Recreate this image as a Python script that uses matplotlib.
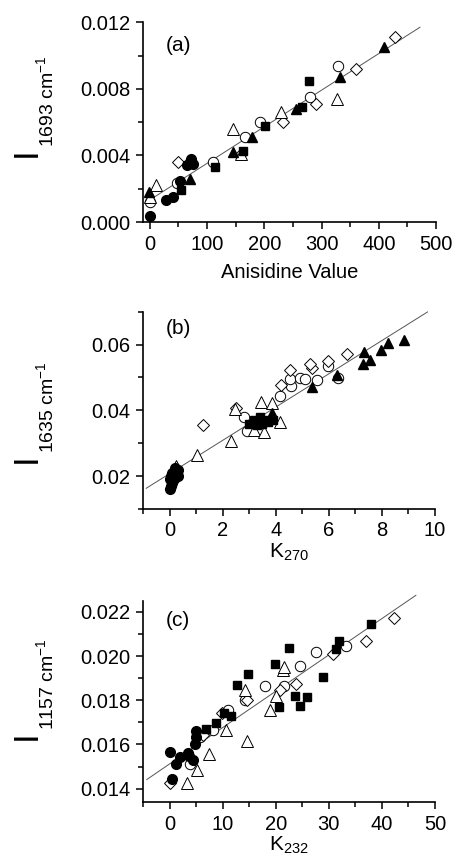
import matplotlib
matplotlib.use("Agg")
import matplotlib.pyplot as plt
from matplotlib.ticker import MultipleLocator, FormatStrFormatter
import numpy as np

plt.rcParams['font.family'] = ['Liberation Sans', 'DejaVu Sans']
plt.rcParams['mathtext.fontset'] = 'custom'
plt.rcParams['mathtext.rm'] = 'Liberation Sans'
plt.rcParams['mathtext.it'] = 'Liberation Sans'

# --- Panel (a): anisidine value vs I(1693) ---
a_fcirc_x = [0, 28, 41, 52, 65, 70, 72, 75]
a_fcirc_y = [0.00036, 0.0013, 0.0015, 0.00245, 0.0034, 0.0036, 0.0038, 0.0035]
a_fsq_x = [55, 114, 162, 201, 265, 278]
a_fsq_y = [0.0019, 0.0033, 0.0043, 0.0058, 0.0069, 0.0085]
a_ftri_x = [-1, 70, 145, 178, 256, 332, 410]
a_ftri_y = [0.0018, 0.0026, 0.0042, 0.0051, 0.0068, 0.0087, 0.0105]
a_ocirc_x = [0, 47, 111, 166, 192, 280, 328]
a_ocirc_y = [0.0012, 0.00237, 0.0036, 0.0051, 0.006, 0.0075, 0.0094]
a_odia_x = [50, 160, 233, 291, 361, 429]
a_odia_y = [0.0036, 0.0041, 0.006, 0.0071, 0.0092, 0.01115]
a_otri_x = [0, 10, 146, 160, 229, 327]
a_otri_y = [0.0015, 0.0022, 0.0056, 0.0041, 0.0066, 0.0074]
a_fit = (2.2e-5, 0.00133)
a_fit_range = [-8, 472]

# --- Panel (b): K270 vs I(1635) ---
b_fcirc_x = [0.0, 0.05, 0.1, 0.0, 0.15, 0.2, 0.1, 0.25, 0.3, 0.05, 0.2, 0.3]
b_fcirc_y = [0.016, 0.017, 0.018, 0.019, 0.019, 0.020, 0.021, 0.021, 0.022, 0.020, 0.0225, 0.020]
b_fsq_x = [3.0, 3.2, 3.3, 3.4, 3.5, 3.6, 3.7, 3.9]
b_fsq_y = [0.036, 0.037, 0.0355, 0.038, 0.036, 0.037, 0.0365, 0.037]
b_ftri_x = [3.87, 5.35, 6.3, 7.3, 7.55, 7.33, 7.95, 8.24, 8.83]
b_ftri_y = [0.0391, 0.0471, 0.0508, 0.0541, 0.0553, 0.0576, 0.0584, 0.0606, 0.0613]
b_ocirc_x = [2.8, 2.9, 4.15, 4.57, 4.55, 4.9, 5.1, 5.56, 6.35, 5.97]
b_ocirc_y = [0.0379, 0.0336, 0.0443, 0.0473, 0.0496, 0.0498, 0.0496, 0.0493, 0.0498, 0.0536]
b_odia_x = [1.26, 2.49, 4.18, 4.53, 5.35, 5.3, 5.97, 6.67]
b_odia_y = [0.0354, 0.0408, 0.0476, 0.0523, 0.0529, 0.0540, 0.0551, 0.0571]
b_otri_x = [0.25, 1.03, 2.33, 2.45, 3.46, 3.87, 4.15, 3.18, 3.56]
b_otri_y = [0.0231, 0.0264, 0.0308, 0.0405, 0.0426, 0.0421, 0.0366, 0.0339, 0.0334]
b_fit = (0.00506, 0.02075)
b_fit_range = [-0.88, 9.72]

# --- Panel (c): K232 vs I(1157) ---
c_fcirc_x = [0, 0.5, 1.3, 1.9, 3.5, 3.7, 4.4, 4.8, 4.9, 5.0]
c_fcirc_y = [0.01564, 0.01442, 0.01514, 0.01544, 0.01562, 0.0155, 0.01529, 0.01604, 0.01634, 0.01663]
c_fsq_x = [6.9, 8.8, 10.3, 11.6, 12.7, 14.8, 19.9, 22.5, 20.6, 23.7, 24.5, 25.8, 28.9, 31.3, 31.9, 37.9]
c_fsq_y = [0.01668, 0.01697, 0.01742, 0.01728, 0.01869, 0.01917, 0.01964, 0.02038, 0.01768,
           0.01818, 0.01776, 0.01814, 0.01906, 0.02031, 0.02068, 0.02143]
c_ocirc_x = [3.8, 5.7, 8.2, 11.1, 14.3, 17.9, 21.5, 24.5, 27.5, 33.2]
c_ocirc_y = [0.01514, 0.01634, 0.01664, 0.01754, 0.01799, 0.01866, 0.01866, 0.01956, 0.02019, 0.02046]
c_odia_x = [0, 6.3, 9.9, 14.5, 20.8, 23.9, 30.8, 37.0, 42.3]
c_odia_y = [0.01424, 0.01641, 0.01742, 0.0180, 0.01847, 0.01874, 0.02009, 0.02068, 0.0217]
c_otri_x = [3.2, 5.2, 7.4, 10.6, 14.5, 14.3, 18.9, 20.0, 21.3, 21.6]
c_otri_y = [0.01427, 0.01484, 0.01555, 0.01664, 0.01616, 0.01848, 0.01754, 0.01821, 0.01938, 0.0195]
c_fit = (0.0001643, 0.01512)
c_fit_range = [-4.3, 46.4]

# marker styles
STYLES = {
    'fcirc': dict(marker='o', ms=7, mfc='black', mec='black'),
    'fsq': dict(marker='s', ms=6.2, mfc='black', mec='black'),
    'ftri': dict(marker='^', ms=7.5, mfc='black', mec='black'),
    'ocirc': dict(marker='o', ms=7.5, mfc='white', mec='black', mew=0.7),
    'odia': dict(marker='D', ms=6, mfc='white', mec='black', mew=0.7),
    'otri': dict(marker='^', ms=8, mfc='white', mec='black', mew=0.7),
}

W, H = 455, 863
fig = plt.figure(figsize=(W / 100, H / 100), dpi=100)


def px_axes(left, top, right, bottom):
    return fig.add_axes([left / W, 1 - bottom / H, (right - left) / W, (bottom - top) / H])


def style_axes(ax):
    for s in ['top', 'right']:
        ax.spines[s].set_visible(False)
    for s in ['left', 'bottom']:
        ax.spines[s].set_linewidth(1.2)
    ax.tick_params(which='major', direction='out', length=5, width=1.1, labelsize=14.5, pad=4)
    ax.tick_params(which='minor', direction='out', length=3.5, width=1.1)


def draw_panel(ax, series, fit, fit_range):
    xf = np.array(fit_range)
    ax.plot(xf, fit[0] * xf + fit[1], color='#555555', lw=0.7, zorder=1, clip_on=False)
    for key, (xs, ys) in series.items():
        ax.plot(xs, ys, ls='none', zorder=3, clip_on=False, **STYLES[key])


def ylabel(ylow, big, sub):
    fig.text(26 / W, 1 - ylow / H, big, rotation=90, fontsize=25, ha='center', va='center')
    fig.text(46 / W, 1 - (ylow - 5) / H, sub, rotation=90, fontsize=14, ha='center', va='bottom')


# (a)
ax = px_axes(143, 22.5, 436, 222)
style_axes(ax)
draw_panel(ax, {'ocirc': (a_ocirc_x, a_ocirc_y), 'odia': (a_odia_x, a_odia_y),
                'otri': (a_otri_x, a_otri_y), 'fcirc': (a_fcirc_x, a_fcirc_y),
                'fsq': (a_fsq_x, a_fsq_y), 'ftri': (a_ftri_x, a_ftri_y)}, a_fit, a_fit_range)
ax.set_xlim(-12, 500)
ax.set_ylim(0, 0.012)
ax.xaxis.set_major_locator(MultipleLocator(100))
ax.xaxis.set_minor_locator(MultipleLocator(50))
ax.yaxis.set_major_locator(MultipleLocator(0.004))
ax.yaxis.set_minor_locator(MultipleLocator(0.002))
ax.yaxis.set_major_formatter(FormatStrFormatter('%.3f'))
ax.set_xlabel('Anisidine Value', fontsize=14.5, labelpad=7)
ax.text(0.078, 0.885, '(a)', transform=ax.transAxes, fontsize=15, ha='left', va='center')
ylabel(152, 'I', '1693 cm$^{\\mathregular{-1}}$')

# (b)
ax = px_axes(143, 311.7, 435, 509)
style_axes(ax)
draw_panel(ax, {'ocirc': (b_ocirc_x, b_ocirc_y), 'odia': (b_odia_x, b_odia_y),
                'otri': (b_otri_x, b_otri_y), 'fcirc': (b_fcirc_x, b_fcirc_y),
                'fsq': (b_fsq_x, b_fsq_y), 'ftri': (b_ftri_x, b_ftri_y)}, b_fit, b_fit_range)
ax.set_xlim(-1, 10)
ax.set_ylim(0.01, 0.07)
ax.xaxis.set_major_locator(MultipleLocator(2))
ax.xaxis.set_minor_locator(MultipleLocator(1))
ax.yaxis.set_major_locator(MultipleLocator(0.02))
ax.yaxis.set_minor_locator(MultipleLocator(0.01))
ax.yaxis.set_major_formatter(FormatStrFormatter('%.2f'))
ax.set_xlabel('K$_{\\mathregular{270}}$', fontsize=15, labelpad=1)
ax.text(0.078, 0.917, '(b)', transform=ax.transAxes, fontsize=15, ha='left', va='center')
ylabel(458, 'I', '1635 cm$^{\\mathregular{-1}}$')

# (c)
ax = px_axes(143, 600.7, 435, 802)
style_axes(ax)
draw_panel(ax, {'ocirc': (c_ocirc_x, c_ocirc_y), 'odia': (c_odia_x, c_odia_y),
                'otri': (c_otri_x, c_otri_y), 'fcirc': (c_fcirc_x, c_fcirc_y),
                'fsq': (c_fsq_x, c_fsq_y)}, c_fit, c_fit_range)
ax.set_xlim(-5, 50)
ax.set_ylim(0.0134, 0.0225)
ax.xaxis.set_major_locator(MultipleLocator(10))
ax.xaxis.set_minor_locator(MultipleLocator(5))
ax.yaxis.set_major_locator(MultipleLocator(0.002))
ax.yaxis.set_minor_locator(MultipleLocator(0.001))
ax.yaxis.set_major_formatter(FormatStrFormatter('%.3f'))
ax.set_xlabel('K$_{\\mathregular{232}}$', fontsize=15, labelpad=1)
ax.text(0.078, 0.9, '(c)', transform=ax.transAxes, fontsize=15, ha='left', va='center')
ylabel(735, 'I', '1157 cm$^{\\mathregular{-1}}$')

fig.savefig('out.png', dpi=100)
